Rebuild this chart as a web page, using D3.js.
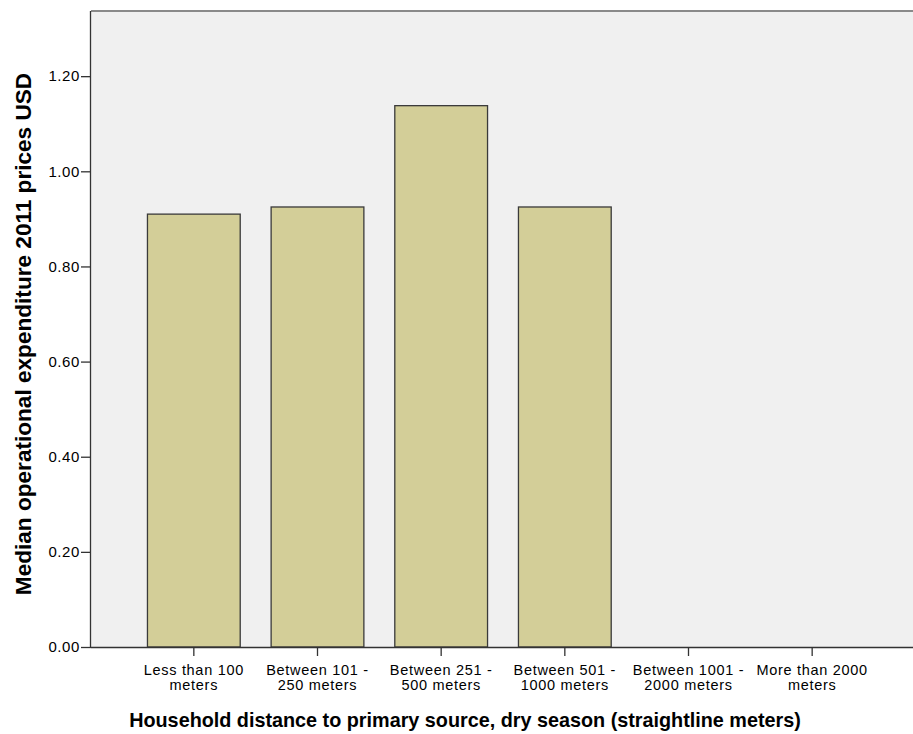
<!DOCTYPE html>
<html>
<head>
<meta charset="utf-8">
<script src="https://cdn.jsdelivr.net/npm/d3@7"></script>
<style>
  html, body { margin: 0; padding: 0; background: #ffffff; }
  svg { display: block; }
  text { font-family: Arial, "Liberation Sans", sans-serif; fill: #000; }
</style>
</head>
<body>
<svg id="chart" width="913" height="734"></svg>
<script>
// Household distance bands (two-line labels)
const categories = [
  ["Less than 100", "meters"],
  ["Between 101 -", "250 meters"],
  ["Between 251 -", "500 meters"],
  ["Between 501 -", "1000 meters"],
  ["Between 1001 -", "2000 meters"],
  ["More than 2000", "meters"]
];
// Median operational expenditure (2011 USD); null = no bar
const medianValues = [0.91, 0.925, 1.138, 0.925, null, null];
const yTicks = [0, 0.2, 0.4, 0.6, 0.8, 1.0, 1.2];
const yTitle = "Median operational expenditure 2011 prices USD";
const xTitle = "Household distance to primary source, dry season (straightline meters)";

const svg = d3.select("#chart");
const plot = { left: 91, right: 913, top: 11, bottom: 647 };
const fontStack = "Arial, 'Liberation Sans', sans-serif";

const x = d3.scaleBand()
  .domain(categories.map((d, i) => i))
  .range([132, 874])
  .paddingInner(0.25)
  .paddingOuter(0.125);

const y = d3.scaleLinear()
  .domain([0, 1.337])
  .range([plot.bottom, plot.top]);

// Plot background
svg.append("rect")
  .attr("x", plot.left).attr("y", plot.top)
  .attr("width", plot.right - plot.left).attr("height", plot.bottom - plot.top)
  .attr("fill", "#f0f0f0");

// Top frame line
svg.append("line")
  .attr("x1", plot.left).attr("x2", plot.right)
  .attr("y1", plot.top).attr("y2", plot.top)
  .attr("stroke", "#8a8a8a").attr("stroke-width", 2);

// Bars
svg.append("g").selectAll("rect")
  .data(medianValues.map((v, i) => ({ i, v })).filter(d => d.v != null))
  .join("rect")
  .attr("x", d => x(d.i))
  .attr("y", d => y(d.v))
  .attr("width", x.bandwidth())
  .attr("height", d => y(0) - y(d.v))
  .attr("fill", "#d3ce98")
  .attr("stroke", "#3a3a3a")
  .attr("stroke-width", 1.3);

// Y axis
const yAxis = d3.axisLeft(y)
  .tickValues(yTicks)
  .tickFormat(d3.format(".2f"))
  .tickSize(10)
  .tickPadding(1);
const gy = svg.append("g")
  .attr("transform", `translate(${plot.left},0)`)
  .call(yAxis);
gy.select(".domain").attr("stroke", "#333").attr("stroke-width", 1.3)
  .attr("d", `M-0.5,${plot.top}V${plot.bottom}`);
gy.selectAll(".tick line").attr("stroke", "#333").attr("stroke-width", 1.3);
gy.selectAll(".tick text").attr("font-size", 15).attr("fill", "#222")
  .attr("letter-spacing", 0.6)
  .style("font-family", fontStack);

// X axis
const xAxis = d3.axisBottom(x).tickSize(9).tickFormat("");
const gx = svg.append("g")
  .attr("transform", `translate(0,${plot.bottom})`)
  .call(xAxis);
gx.select(".domain").attr("stroke", "#333").attr("stroke-width", 1.3)
  .attr("d", `M${plot.left},0.5H${plot.right}`);
gx.selectAll(".tick line").attr("stroke", "#333").attr("stroke-width", 1.3);

// Category labels (two lines)
const labels = svg.append("g");
categories.forEach((lines, i) => {
  const cx = x(i) + x.bandwidth() / 2;
  const t = labels.append("text")
    .attr("x", cx)
    .attr("y", 675)
    .attr("text-anchor", "middle")
    .attr("font-size", 14.5)
    .attr("letter-spacing", 0.7)
    .attr("fill", "#222");
  lines.forEach((ln, k) => {
    t.append("tspan")
      .attr("x", cx)
      .attr("dy", k === 0 ? 0 : 15)
      .text(ln);
  });
});

// Axis titles
svg.append("text")
  .attr("x", 465).attr("y", 727)
  .attr("text-anchor", "middle")
  .attr("font-size", 19.8).attr("font-weight", "bold")
  .text(xTitle);

svg.append("text")
  .attr("transform", "translate(31,334) rotate(-90)")
  .attr("text-anchor", "middle")
  .attr("font-size", 22.6).attr("font-weight", "bold")
  .text(yTitle);
</script>
</body>
</html>
